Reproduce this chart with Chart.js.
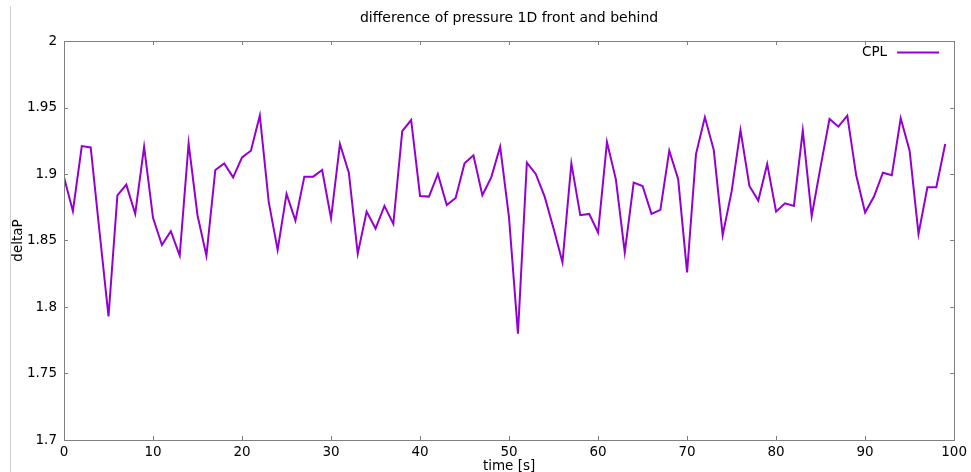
<!DOCTYPE html>
<html>
<head>
<meta charset="utf-8">
<script src="https://cdn.jsdelivr.net/npm/chart.js@4.4.1/dist/chart.umd.min.js"></script>
<style>
  html, body { margin: 0; padding: 0; background: #fff; }
  #wrap { position: relative; width: 971px; height: 472px; }
  #edge { position: absolute; left: 10px; top: 6px; bottom: 0; border-left: 1px solid #d0d0d0; }
</style>
</head>
<body>
<div id="wrap">
  <canvas id="chart" width="971" height="472"></canvas>
  <div id="edge"></div>
</div>
<script>
const times = [
   0,  1,  2,  3,  4,  5,  6,  7,  8,  9, 10, 11, 12, 13, 14, 15, 16, 17, 18, 19,
  20, 21, 22, 23, 24, 25, 26, 27, 28, 29, 30, 31, 32, 33, 34, 35, 36, 37, 38, 39,
  40, 41, 42, 43, 44, 45, 46, 47, 48, 49, 50, 51, 52, 53, 54, 55, 56, 57, 58, 59,
  60, 61, 62, 63, 64, 65, 66, 67, 68, 69, 70, 71, 72, 73, 74, 75, 76, 77, 78, 79,
  80, 81, 82, 83, 84, 85, 86, 87, 88, 89, 90, 91, 92, 93, 94, 95, 96, 97, 98, 99
];
const deltaP = [
  1.8975, 1.872,  1.921,  1.920,  1.856,  1.793,  1.884,  1.892,  1.870,  1.9205,
  1.867,  1.8466, 1.857,  1.8386, 1.923,  1.869,  1.8386, 1.903,  1.908,  1.8975,
  1.9125, 1.9175, 1.944,  1.879,  1.843,  1.885,  1.865,  1.898,  1.898,  1.903,
  1.8667, 1.9226, 1.901,  1.840,  1.8717, 1.859,  1.876,  1.8624, 1.9323, 1.9406,
  1.8835, 1.883,  1.900,  1.8767, 1.882,  1.908,  1.914,  1.884,  1.8975, 1.9205,
  1.867,  1.780,  1.9085, 1.900,  1.883,  1.859,  1.8336, 1.908,  1.869,  1.870,
  1.856,  1.924,  1.896,  1.841,  1.8935, 1.891,  1.870,  1.873,  1.9175, 1.896,
  1.826,  1.915,  1.9426, 1.918,  1.854,  1.8867, 1.933,  1.891,  1.880,  1.9075,
  1.8717, 1.878,  1.876,  1.9326, 1.8684, 1.9055, 1.9414, 1.9356, 1.9439, 1.899,
  1.871,  1.883,  1.901,  1.899,  1.9419, 1.9175, 1.855,  1.890,  1.890,  1.9226
];
const xTicks = [0, 10, 20, 30, 40, 50, 60, 70, 80, 90, 100];
const yTicks = [1.7, 1.75, 1.8, 1.85, 1.9, 1.95, 2];

const FONT = "'DejaVu Sans', sans-serif";
Chart.defaults.font.family = FONT;
Chart.defaults.color = '#000';

// gnuplot style frame: grey border, short inward ticks mirrored on all sides, legend top right
const gpFrame = {
  id: 'gpFrame',
  afterDatasetsDraw(chart) {
    const { ctx, chartArea: a, scales: { x, y } } = chart;
    const tl = 4;
    ctx.save();
    ctx.strokeStyle = '#808080';
    ctx.lineWidth = 1;
    ctx.beginPath();
    for (const v of xTicks) {
      const px = Math.round(x.getPixelForValue(v)) + 0.5;
      ctx.moveTo(px, a.bottom); ctx.lineTo(px, a.bottom - tl);
      ctx.moveTo(px, a.top);    ctx.lineTo(px, a.top + tl);
    }
    for (const v of yTicks) {
      const py = Math.round(y.getPixelForValue(v)) + 0.5;
      ctx.moveTo(a.left, py);  ctx.lineTo(a.left + tl, py);
      ctx.moveTo(a.right, py); ctx.lineTo(a.right - tl, py);
    }
    ctx.stroke();
    ctx.strokeRect(Math.round(a.left) + 0.5, Math.round(a.top) + 0.5,
                   Math.round(a.width), Math.round(a.height));

    // legend
    const ds = chart.data.datasets[0];
    const ly = a.top + 11.5;
    ctx.fillStyle = '#000';
    ctx.font = `13.5px ${FONT}`;
    ctx.textAlign = 'right';
    ctx.textBaseline = 'middle';
    ctx.fillText(ds.label, a.right - 67, ly);
    ctx.strokeStyle = ds.borderColor;
    ctx.lineWidth = 2;
    ctx.beginPath();
    ctx.moveTo(a.right - 57, ly); ctx.lineTo(a.right - 15, ly);
    ctx.stroke();
    ctx.restore();
  }
};

new Chart(document.getElementById('chart'), {
  type: 'line',
  data: {
    datasets: [{
      label: 'CPL',
      data: times.map((t, i) => ({ x: t, y: deltaP[i] })),
      borderColor: '#9400d3',
      borderWidth: 2,
      pointRadius: 0,
      tension: 0,
      fill: false,
    }],
  },
  options: {
    responsive: false,
    animation: false,
    layout: { padding: { top: 0, right: 16, bottom: 0, left: 0 } },
    plugins: {
      legend: { display: false },
      tooltip: { enabled: false },
      title: {
        display: true,
        text: 'difference of pressure 1D front and behind',
        fullSize: false,
        color: '#000',
        font: { size: 14, weight: 'normal' },
        padding: { top: 10, bottom: 14.2 },
      },
    },
    scales: {
      x: {
        type: 'linear',
        min: 0, max: 100,
        afterBuildTicks: s => { s.ticks = xTicks.map(v => ({ value: v })); },
        afterFit: s => { s.height = 32; },
        grid: { display: false, drawTicks: false, tickLength: 0 },
        border: { display: false },
        ticks: { font: { size: 13.5 }, padding: 4, maxRotation: 0, autoSkip: false, callback: v => String(v) },
        title: { display: true, text: 'time [s]', font: { size: 13.5 }, padding: { top: 0, bottom: -2.5 } },
      },
      y: {
        min: 1.7, max: 2,
        afterBuildTicks: s => { s.ticks = yTicks.map(v => ({ value: v })); },
        afterFit: s => { s.width = 64; },
        grid: { display: false, drawTicks: false, tickLength: 0 },
        border: { display: false },
        ticks: { font: { size: 13.5 }, padding: 7, autoSkip: false, callback: v => String(+v.toFixed(2)) },
        title: { display: true, text: 'deltaP', font: { size: 13.5 }, padding: { top: 10, bottom: 0 } },
      },
    },
  },
  plugins: [gpFrame],
});
</script>
</body>
</html>
